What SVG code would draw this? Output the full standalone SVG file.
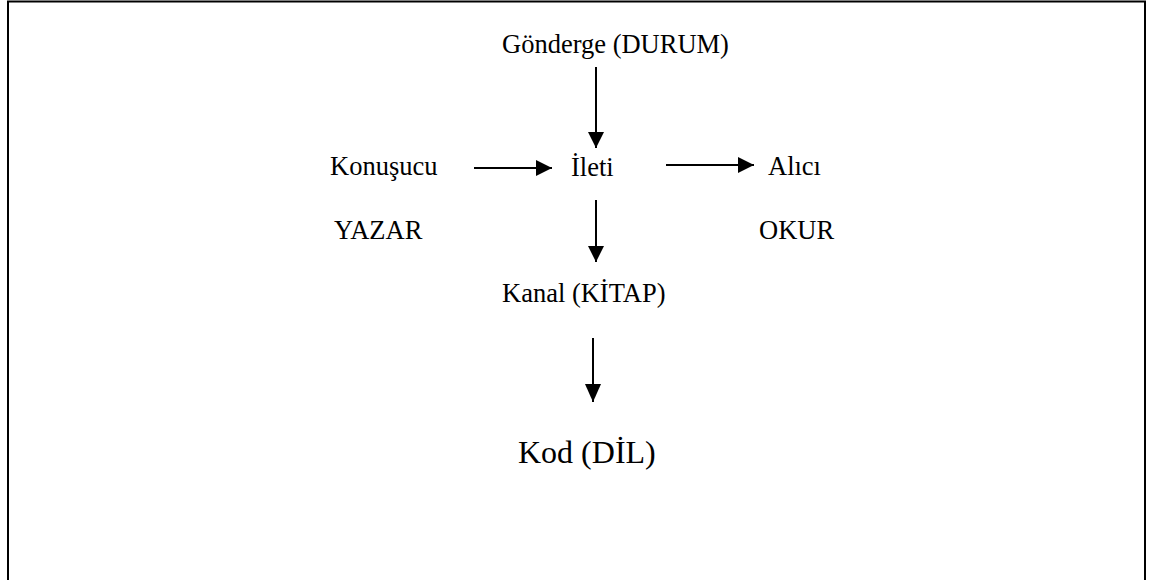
<svg xmlns="http://www.w3.org/2000/svg" width="1154" height="580" viewBox="0 0 1154 580">
<defs>
<marker id="ah" viewBox="0 0 16 16" refX="16" refY="8" markerWidth="16" markerHeight="16" markerUnits="userSpaceOnUse" orient="auto"><path d="M0,0 L16,8 L0,16 Z" fill="#000"/></marker>
<marker id="ah2" viewBox="0 0 18 16" refX="18" refY="8" markerWidth="18" markerHeight="16" markerUnits="userSpaceOnUse" orient="auto"><path d="M0,0 L18,8 L0,16 Z" fill="#000"/></marker>
<style>
.t{font-family:"Liberation Serif","Times New Roman",serif;font-size:26.5px;fill:#000}
.big{font-size:32px}
.c{stroke:#000;stroke-width:2;fill:none;marker-end:url(#ah)}
</style>
</defs>
<rect x="0" y="0" width="1154" height="580" fill="#fff"/>
<path d="M8,581 V1.5 H1145 V581" fill="none" stroke="#000" stroke-width="2"/>
<g id="gonderge"><text class="t" x="502" y="53">Gönderge (DURUM)</text></g>
<g id="konusucu"><text class="t" x="330" y="175">Konuşucu</text></g>
<g id="ileti"><text class="t" x="571" y="176">İleti</text></g>
<g id="alici"><text class="t" x="768" y="175">Alıcı</text></g>
<g id="yazar"><text class="t" x="334" y="239">YAZAR</text></g>
<g id="okur"><text class="t" x="759" y="239">OKUR</text></g>
<g id="kanal"><text class="t" x="502" y="302">Kanal (KİTAP)</text></g>
<g id="kod"><text class="t big" x="518" y="463">Kod (DİL)</text></g>
<g id="connectors">
<line class="c" x1="596" y1="67" x2="596" y2="148"/>
<line class="c" x1="474" y1="168" x2="552" y2="168"/>
<line class="c" x1="666" y1="165" x2="754" y2="165"/>
<line class="c" x1="596" y1="200" x2="596" y2="262"/>
<line class="c" x1="593" y1="338" x2="593" y2="402" style="marker-end:url(#ah2)"/>
</g>
</svg>
